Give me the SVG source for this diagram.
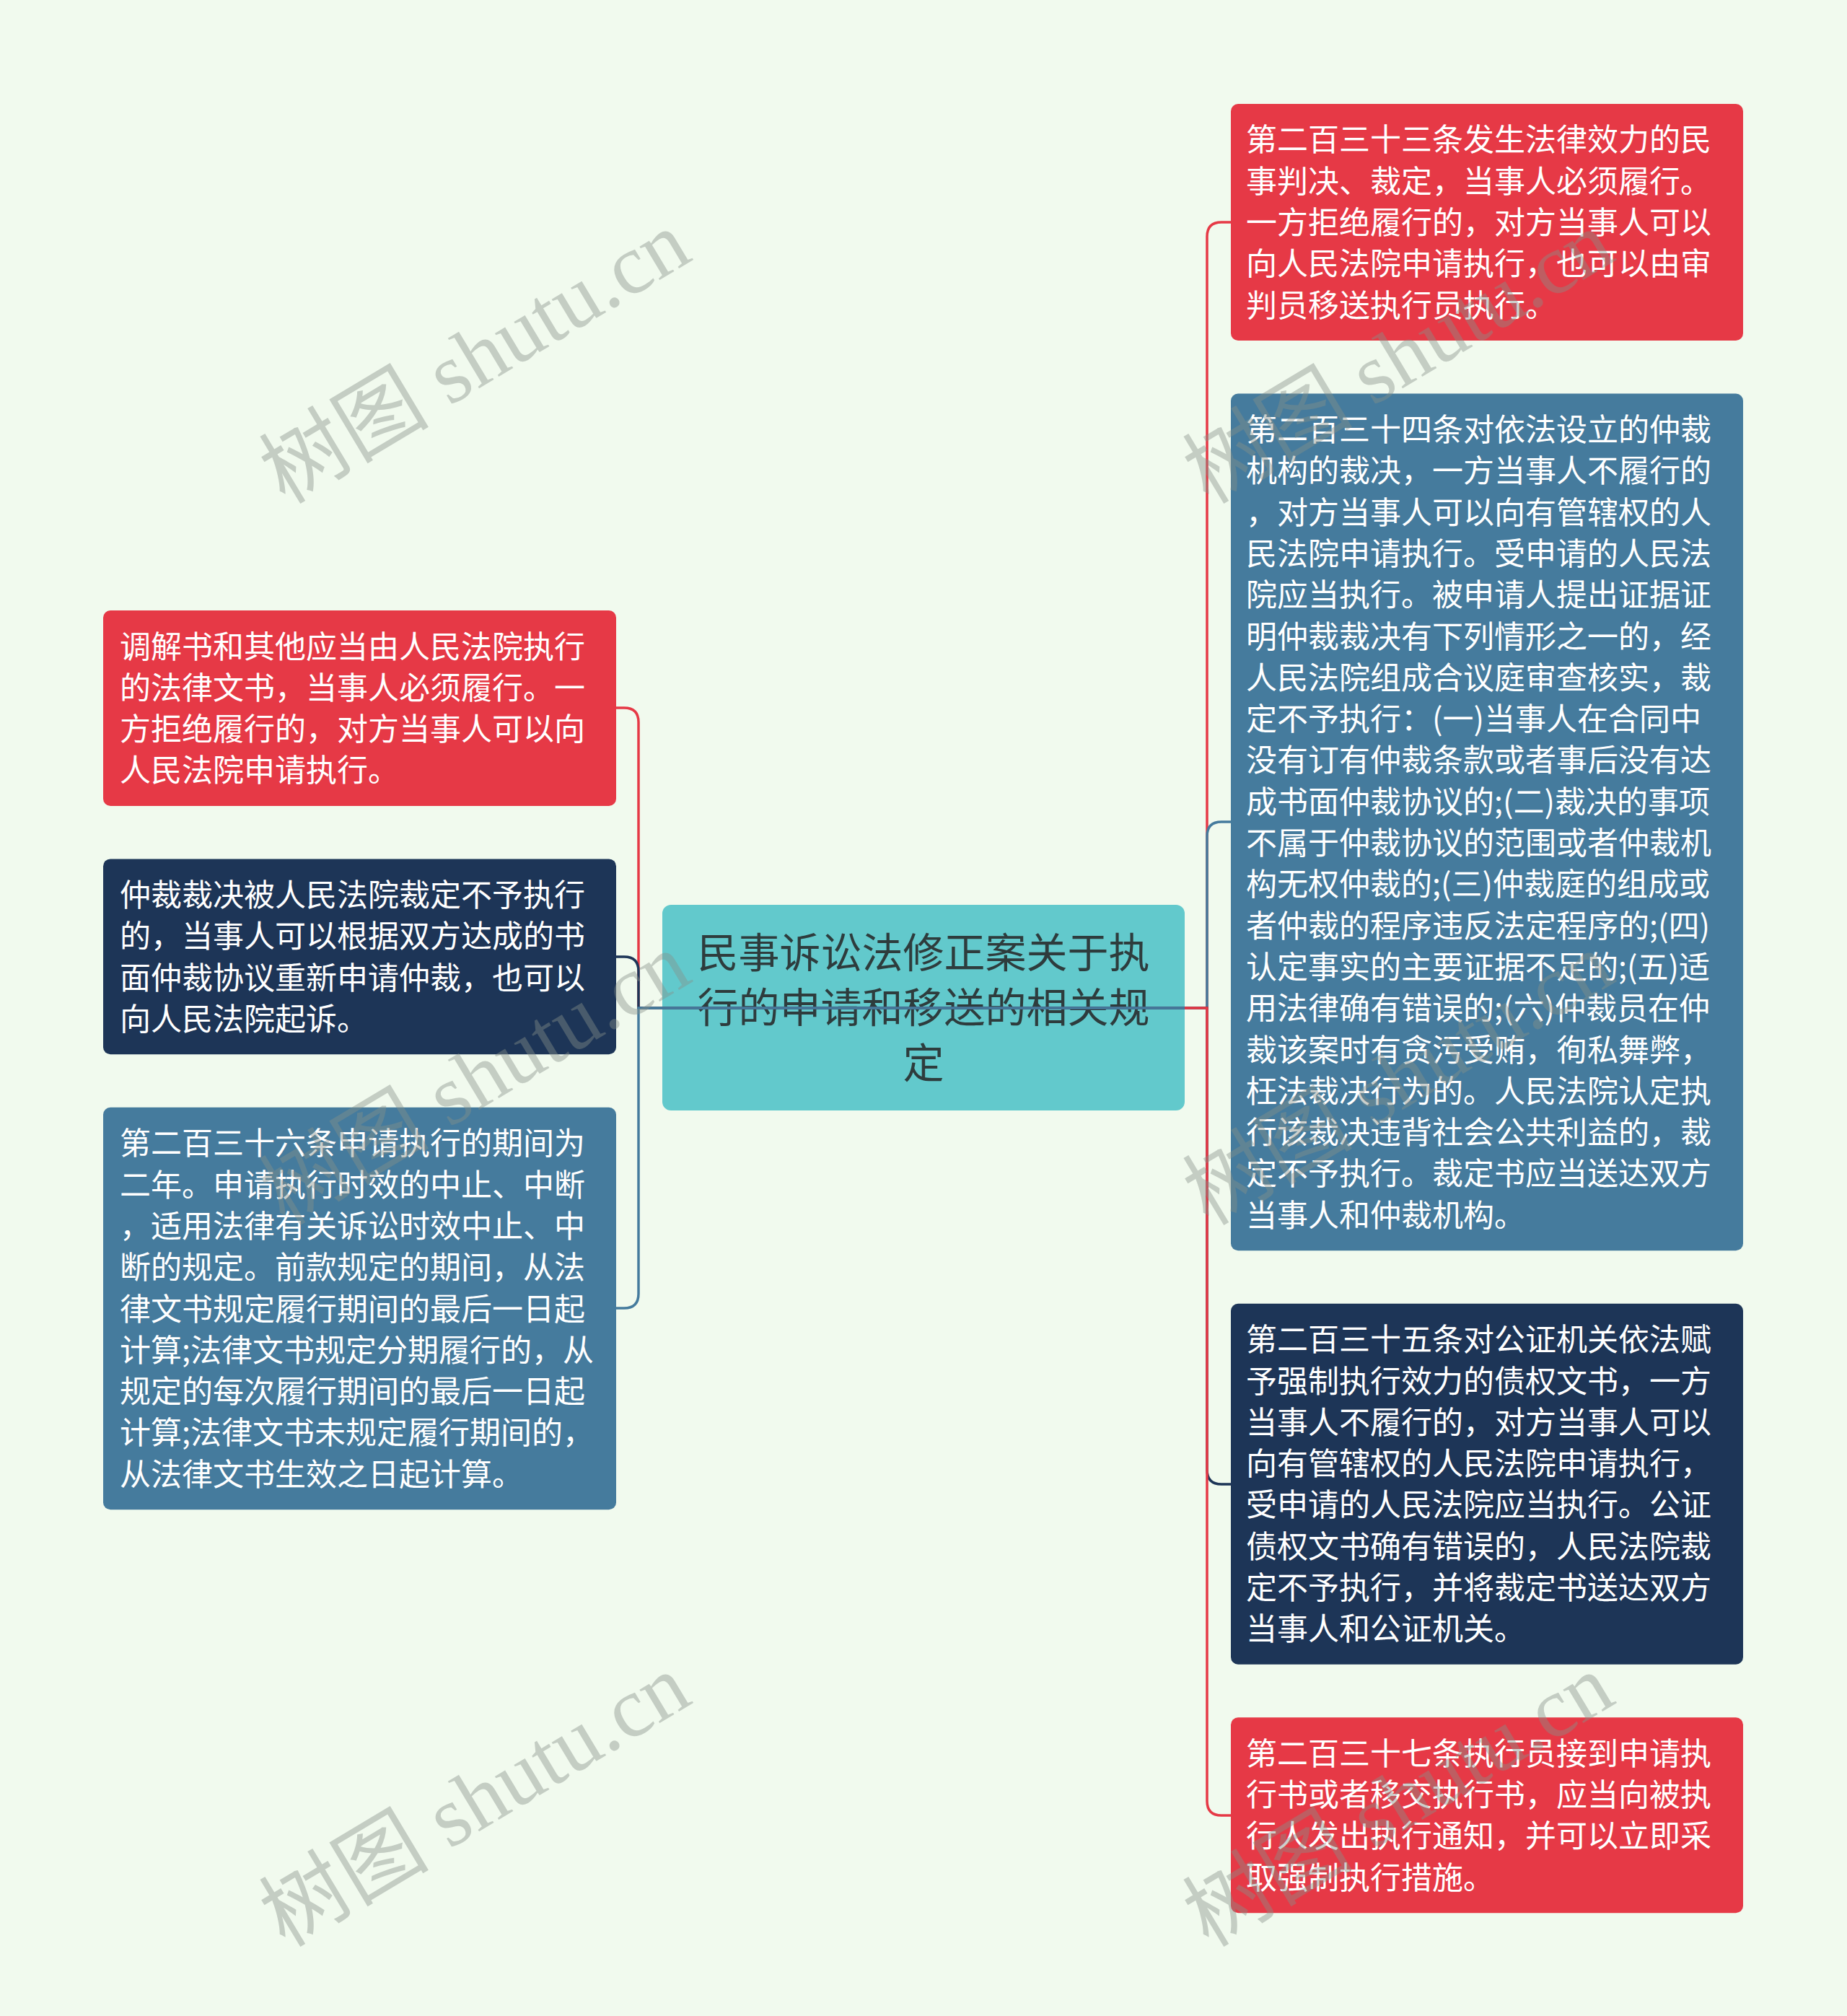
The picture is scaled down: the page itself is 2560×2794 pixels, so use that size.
<svg xmlns="http://www.w3.org/2000/svg" width="2560" height="2794" viewBox="0 0 2560 2794">
<style>
.bg{fill:#F1FAEE}
.red{fill:#E63946}
.navy{fill:#1D3557}
.blue{fill:#457B9D}
.root{fill:#62C9CC}
.t{font-family:"Noto Sans CJK SC","Noto Sans",sans-serif;font-size:43px;fill:#FFFFFF}
.rt{font-family:"Noto Sans CJK SC","Noto Sans",sans-serif;font-size:57px;fill:#2E3C3D;text-anchor:middle}
.c{fill:none;stroke-width:3.5}
.cr{stroke:#E63946}
.cn{stroke:#1D3557}
.cb{stroke:#457B9D}
.wm{font-family:"Liberation Serif","Noto Sans CJK SC",serif;font-size:118px;fill:#87918A;opacity:0.42}
</style>
<rect class="bg" x="0" y="0" width="2560" height="2794"/>

<g id="root">
<rect class="root" x="918" y="1254" width="724" height="285" rx="12"/>
<text class="rt"><tspan x="1280" y="1341">民事诉讼法修正案关于执</tspan><tspan x="1280" y="1417">行的申请和移送的相关规</tspan><tspan x="1280" y="1494">定</tspan></text>
</g>

<g id="node-r1">
<rect class="red" x="1706" y="144" width="710" height="328" rx="10"/>
<text class="t"><tspan x="1727" y="209">第二百三十三条发生法律效力的民</tspan><tspan x="1727" y="267">事判决、裁定，当事人必须履行。</tspan><tspan x="1727" y="324">一方拒绝履行的，对方当事人可以</tspan><tspan x="1727" y="381">向人民法院申请执行，也可以由审</tspan><tspan x="1727" y="439">判员移送执行员执行。</tspan></text>
</g>

<g id="node-r2">
<rect class="blue" x="1706" y="545.5" width="710" height="1187.7" rx="10"/>
<text class="t"><tspan x="1727" y="611">第二百三十四条对依法设立的仲裁</tspan><tspan x="1727" y="668.3">机构的裁决，一方当事人不履行的</tspan><tspan x="1727" y="725.6">，对方当事人可以向有管辖权的人</tspan><tspan x="1727" y="782.9">民法院申请执行。受申请的人民法</tspan><tspan x="1727" y="840.2">院应当执行。被申请人提出证据证</tspan><tspan x="1727" y="897.5">明仲裁裁决有下列情形之一的，经</tspan><tspan x="1727" y="954.8">人民法院组成合议庭审查核实，裁</tspan><tspan x="1727" y="1012.1">定不予执行：(一)当事人在合同中</tspan><tspan x="1727" y="1069.4">没有订有仲裁条款或者事后没有达</tspan><tspan x="1727" y="1126.7">成书面仲裁协议的;(二)裁决的事项</tspan><tspan x="1727" y="1184">不属于仲裁协议的范围或者仲裁机</tspan><tspan x="1727" y="1241.3">构无权仲裁的;(三)仲裁庭的组成或</tspan><tspan x="1727" y="1298.6">者仲裁的程序违反法定程序的;(四)</tspan><tspan x="1727" y="1355.9">认定事实的主要证据不足的;(五)适</tspan><tspan x="1727" y="1413.2">用法律确有错误的;(六)仲裁员在仲</tspan><tspan x="1727" y="1470.5">裁该案时有贪污受贿，徇私舞弊，</tspan><tspan x="1727" y="1527.8">枉法裁决行为的。人民法院认定执</tspan><tspan x="1727" y="1585.1">行该裁决违背社会公共利益的，裁</tspan><tspan x="1727" y="1642.4">定不予执行。裁定书应当送达双方</tspan><tspan x="1727" y="1699.7">当事人和仲裁机构。</tspan></text>
</g>

<g id="node-r3">
<rect class="navy" x="1706" y="1806.7" width="710" height="500.1" rx="10"/>
<text class="t"><tspan x="1727" y="1872.2">第二百三十五条对公证机关依法赋</tspan><tspan x="1727" y="1929.5">予强制执行效力的债权文书，一方</tspan><tspan x="1727" y="1986.8">当事人不履行的，对方当事人可以</tspan><tspan x="1727" y="2044.1">向有管辖权的人民法院申请执行，</tspan><tspan x="1727" y="2101.4">受申请的人民法院应当执行。公证</tspan><tspan x="1727" y="2158.7">债权文书确有错误的，人民法院裁</tspan><tspan x="1727" y="2216">定不予执行，并将裁定书送达双方</tspan><tspan x="1727" y="2273.3">当事人和公证机关。</tspan></text>
</g>

<g id="node-r4">
<rect class="red" x="1706" y="2380.3" width="710" height="270.9" rx="10"/>
<text class="t"><tspan x="1727" y="2445.8">第二百三十七条执行员接到申请执</tspan><tspan x="1727" y="2503.1">行书或者移交执行书，应当向被执</tspan><tspan x="1727" y="2560.4">行人发出执行通知，并可以立即采</tspan><tspan x="1727" y="2617.7">取强制执行措施。</tspan></text>
</g>

<g id="node-l1">
<rect class="red" x="143" y="846" width="711" height="270.9" rx="10"/>
<text class="t"><tspan x="166" y="911.5">调解书和其他应当由人民法院执行</tspan><tspan x="166" y="968.8">的法律文书，当事人必须履行。一</tspan><tspan x="166" y="1026.1">方拒绝履行的，对方当事人可以向</tspan><tspan x="166" y="1083.4">人民法院申请执行。</tspan></text>
</g>

<g id="node-l2">
<rect class="navy" x="143" y="1190.4" width="711" height="270.9" rx="10"/>
<text class="t"><tspan x="166" y="1255.9">仲裁裁决被人民法院裁定不予执行</tspan><tspan x="166" y="1313.2">的，当事人可以根据双方达成的书</tspan><tspan x="166" y="1370.5">面仲裁协议重新申请仲裁，也可以</tspan><tspan x="166" y="1427.8">向人民法院起诉。</tspan></text>
</g>

<g id="node-l3">
<rect class="blue" x="143" y="1534.8" width="711" height="557.4" rx="10"/>
<text class="t"><tspan x="166" y="1600.3">第二百三十六条申请执行的期间为</tspan><tspan x="166" y="1657.6">二年。申请执行时效的中止、中断</tspan><tspan x="166" y="1714.9">，适用法律有关诉讼时效中止、中</tspan><tspan x="166" y="1772.2">断的规定。前款规定的期间，从法</tspan><tspan x="166" y="1829.5">律文书规定履行期间的最后一日起</tspan><tspan x="166" y="1886.8">计算;法律文书规定分期履行的，从</tspan><tspan x="166" y="1944.1">规定的每次履行期间的最后一日起</tspan><tspan x="166" y="2001.4">计算;法律文书未规定履行期间的，</tspan><tspan x="166" y="2058.7">从法律文书生效之日起计算。</tspan></text>
</g>

<g id="connectors">
<path class="c cr" d="M1642 1397 H1673 V328 Q1673 308 1693 308 H1706"/>
<path class="c cb" d="M1642 1397 H1673 V1159 Q1673 1139 1693 1139 H1706"/>
<path class="c cn" d="M1642 1397 H1673 V2037 Q1673 2057 1693 2057 H1706"/>
<path class="c cr" d="M1642 1397 H1673 V2496 Q1673 2516 1693 2516 H1706"/>
<path class="c cr" d="M1642 1397 H885 V1001 Q885 981 865 981 H854"/>
<path class="c cn" d="M1642 1397 H885 V1346 Q885 1326 865 1326 H854"/>
<path class="c cb" d="M1642 1397 H885 V1793 Q885 1813 865 1813 H854"/>
</g>

<g id="watermarks">
<text class="wm" transform="translate(395 700) rotate(-31)">树图 shutu.cn</text>
<text class="wm" transform="translate(395 1700) rotate(-31)">树图 shutu.cn</text>
<text class="wm" transform="translate(395 2700) rotate(-31)">树图 shutu.cn</text>
<text class="wm" transform="translate(1675 700) rotate(-31)">树图 shutu.cn</text>
<text class="wm" transform="translate(1675 1700) rotate(-31)">树图 shutu.cn</text>
<text class="wm" transform="translate(1675 2700) rotate(-31)">树图 shutu.cn</text>
</g>
</svg>
